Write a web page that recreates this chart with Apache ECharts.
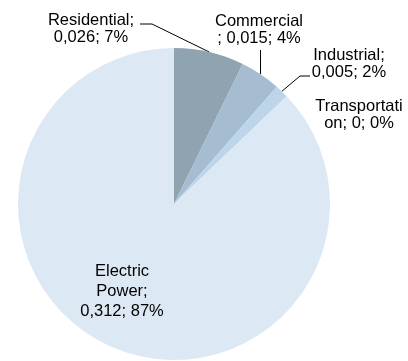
<!DOCTYPE html>
<html>
<head>
<meta charset="utf-8">
<script src="https://cdn.jsdelivr.net/npm/echarts@6/dist/echarts.min.js"></script>
<style>
  html, body { margin: 0; padding: 0; background: #fff; }
  #chart { width: 408px; height: 361px; }
</style>
</head>
<body>
<div id="chart"></div>
<script>
// Energy use by sector
const sectors = ['Residential', 'Commercial', 'Industrial', 'Transportation', 'Electric Power'];
const values = [0.026, 0.015, 0.005, 0, 0.312];
const percents = [7, 4, 2, 0, 87];
const labelTexts = [
  'Residential;\n0,026; 7%',
  'Commercial\n; 0,015; 4%',
  'Industrial;\n0,005; 2%',
  'Transportati\non; 0; 0%',
  'Electric\nPower;\n0,312; 87%'
];
const sliceColors = ['#8fa3b1', '#a6bdd1', '#bdd5eb', '#c9dcee', '#dce8f3'];

// Label placement (text block centre) and leader line shape per slice
const placement = [
  { x: 91, y: 29, line: (a) => [a, [152, 24], [140, 24]] },
  { x: 259, y: 30, line: (a) => [a, [a[0], 50]] },
  { x: 349, y: 64, line: (a) => [a, [300, 76], [310, 76]] },
  { x: 359, y: 115, line: null },
  { x: 122, y: 291, line: null }
];

const chart = echarts.init(document.getElementById('chart'), null, { renderer: 'canvas' });

const data = sectors.map((name, i) => ({
  name: name,
  value: values[i],
  itemStyle: { color: sliceColors[i] },
  label: {
    formatter: labelTexts[i],
    lineHeight: i === 4 ? 20 : 17
  },
  labelLine: { show: placement[i].line !== null }
}));

chart.setOption({
  animation: false,
  series: [{
    type: 'pie',
    center: [174, 204],
    radius: 156,
    startAngle: 90,
    clockwise: true,
    avoidLabelOverlap: false,
    minShowLabelAngle: -1,
    itemStyle: { borderWidth: 0 },
    label: {
      show: true,
      position: 'outside',
      fontFamily: 'Liberation Sans, Arial, sans-serif',
      fontSize: 16.5,
      color: '#000',
      align: 'center'
    },
    labelLine: {
      show: true,
      length: 10,
      length2: 10,
      lineStyle: { color: '#000', width: 1 }
    },
    labelLayout: function (params) {
      const p = placement[params.dataIndex];
      const out = { x: p.x, y: p.y, align: 'center', verticalAlign: 'middle' };
      if (p.line && params.labelLinePoints) {
        out.labelLinePoints = p.line(params.labelLinePoints[0]);
      }
      return out;
    },
    data: data
  }]
});
</script>
</body>
</html>
